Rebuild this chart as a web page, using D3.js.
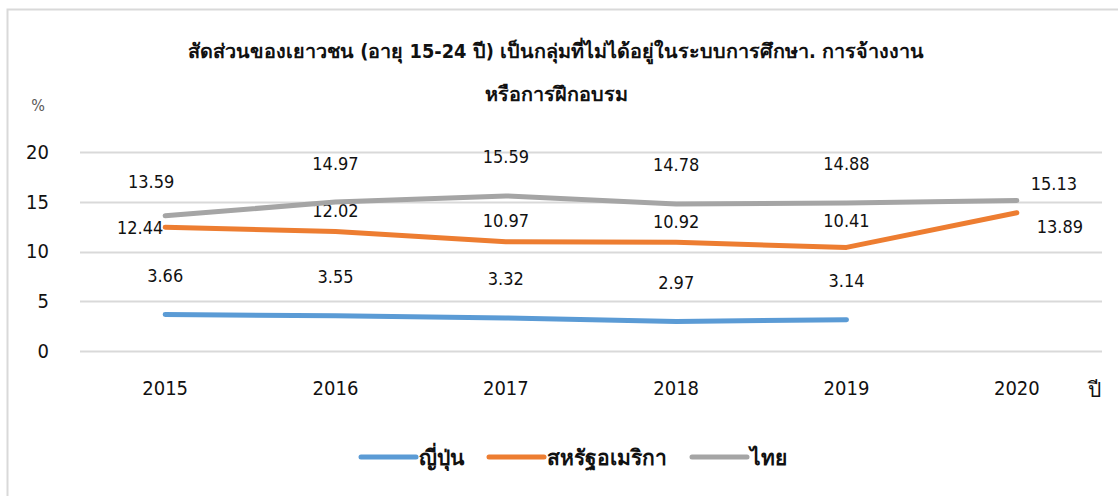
<!DOCTYPE html>
<html>
<head>
<meta charset="utf-8">
<script src="https://cdn.jsdelivr.net/npm/d3@7"></script>
<style>
  body { margin: 0; background: #fff; }
  svg text { font-family: "DejaVu Sans Condensed", "DejaVu Sans", sans-serif; fill: #111; }
</style>
</head>
<body>
<div id="chart"></div>
<script>
// categories and series
var years = ["2015", "2016", "2017", "2018", "2019", "2020"];
var japan = [3.66, 3.55, 3.32, 2.97, 3.14, null];
var usa = [12.44, 12.02, 10.97, 10.92, 10.41, 13.89];
var thai = [13.59, 14.97, 15.59, 14.78, 14.88, 15.13];
var yTicks = [0, 5, 10, 15, 20];

var seriesNames = ["ญี่ปุ่น", "สหรัฐอเมริกา", "ไทย"];
var titleLines = ["สัดส่วนของเยาวชน (อายุ 15-24 ปี) เป็นกลุ่มที่ไม่ได้อยู่ในระบบการศึกษา. การจ้างงาน",
                  "หรือการฝึกอบรม"];

var W = 1118, H = 496;
var m = [152, 16, 145, 80]; //top right bottom left of the plot area

var svg = d3.select("#chart").append("svg")
    .attr("width", W)
    .attr("height", H);

// chart frame (runs off the right and bottom edges like in the source picture)
svg.append("rect")
    .attr("x", 7.5).attr("y", 9.5)
    .attr("width", 1300).attr("height", 700)
    .attr("fill", "none")
    .attr("stroke", "#d9d9d9")
    .attr("stroke-width", 2);

var x = d3.scaleBand()
    .domain(years)
    .range([m[3], W - m[1]]);
var y = d3.scaleLinear()
    .domain([0, 20])
    .range([H - m[2], m[0]]);
var cx = function(d) { return x(d) + x.bandwidth() / 2; };

//grid lines
svg.append("g").selectAll("line")
    .data(yTicks)
    .enter().append("line")
    .attr("x1", m[3]).attr("x2", W - m[1])
    .attr("y1", function(d) { return Math.round(y(d)) + 0.5; })
    .attr("y2", function(d) { return Math.round(y(d)) + 0.5; })
    .attr("stroke", "#d9d9d9")
    .attr("stroke-width", 2);

//y axis labels
var yAxis = svg.append("g")
    .attr("transform", "translate(" + m[3] + ",0)")
    .call(d3.axisLeft(y).tickValues(yTicks).tickSize(0).tickPadding(31));
yAxis.select(".domain").remove();
yAxis.selectAll("text")
    .style("font-size", "20px")
    .attr("fill", "#111");

//x axis labels
var xAxis = svg.append("g")
    .attr("transform", "translate(0," + y(0) + ")")
    .call(d3.axisBottom(x).tickSize(0).tickPadding(30));
xAxis.select(".domain").remove();
xAxis.selectAll("text")
    .style("font-size", "20px")
    .attr("fill", "#111");

svg.append("text")
    .attr("x", 1094).attr("y", 397)
    .attr("text-anchor", "middle")
    .style("font-size", "21px")
    .text("ปี");

svg.append("text")
    .attr("x", 38).attr("y", 111)
    .attr("text-anchor", "middle")
    .style("font-size", "16px")
    .style("fill", "#595959")
    .text("%");

// title
svg.append("g").selectAll("text")
    .data(titleLines)
    .enter().append("text")
    .attr("x", 556)
    .attr("y", function(d, i) { return 58 + i * 43; })
    .attr("text-anchor", "middle")
    .style("font-size", "19.8px")
    .style("font-weight", "bold")
    .text(function(d) { return d; });

// series
var series = [
    {name: seriesNames[0], values: japan, color: "#5b9bd5", labelDy: -39},
    {name: seriesNames[1], values: usa, color: "#ed7d31", labelDy: -21},
    {name: seriesNames[2], values: thai, color: "#a5a5a5", labelDy: -39}
];
// labels that were dragged by hand in the original: [series, index, dx, dy]
var labelNudge = [[1, 0, -25, 0], [1, 4, 0, -27], [1, 5, 43, 14], [2, 0, -14, -34], [2, 5, 37, -17]];

var line = d3.line()
    .defined(function(d) { return d.v != null; })
    .x(function(d) { return cx(d.year); })
    .y(function(d) { return y(d.v); });

series.forEach(function(s, si) {
    var pts = years.map(function(yr, i) { return {year: yr, v: s.values[i], i: i}; });
    svg.append("path")
        .datum(pts)
        .attr("d", line)
        .attr("fill", "none")
        .attr("stroke", s.color)
        .attr("stroke-width", 5)
        .attr("stroke-linecap", "round")
        .attr("stroke-linejoin", "round");

    svg.append("g").selectAll("text")
        .data(pts.filter(function(d) { return d.v != null; }))
        .enter().append("text")
        .attr("x", function(d) {
            var n = labelNudge.find(function(o) { return o[0] == si && o[1] == d.i; });
            return cx(d.year) + (n ? n[2] : 0);
        })
        .attr("y", function(d) {
            var n = labelNudge.find(function(o) { return o[0] == si && o[1] == d.i; });
            return y(d.v) + (n ? n[3] : s.labelDy);
        })
        .attr("dy", "0.36em")
        .attr("text-anchor", "middle")
        .style("font-size", "18px")
        .text(function(d) { return d.v.toFixed(2); });
});

// legend
var legend = svg.append("g");
var lx = 0;
series.forEach(function(s) {
    var item = legend.append("g").attr("transform", "translate(" + lx + ",0)");
    item.append("line")
        .attr("x1", 0).attr("x2", 55)
        .attr("stroke", s.color)
        .attr("stroke-width", 5)
        .attr("stroke-linecap", "round");
    var t = item.append("text")
        .attr("x", 58)
        .attr("dy", "0.36em")
        .style("font-size", "21px")
        .style("font-weight", "bold")
        .text(s.name);
    lx += 58 + t.node().getComputedTextLength() + 25;
});
lx -= 25;
legend.attr("transform", "translate(" + (574 - lx / 2) + ",457)");
</script>
</body>
</html>
